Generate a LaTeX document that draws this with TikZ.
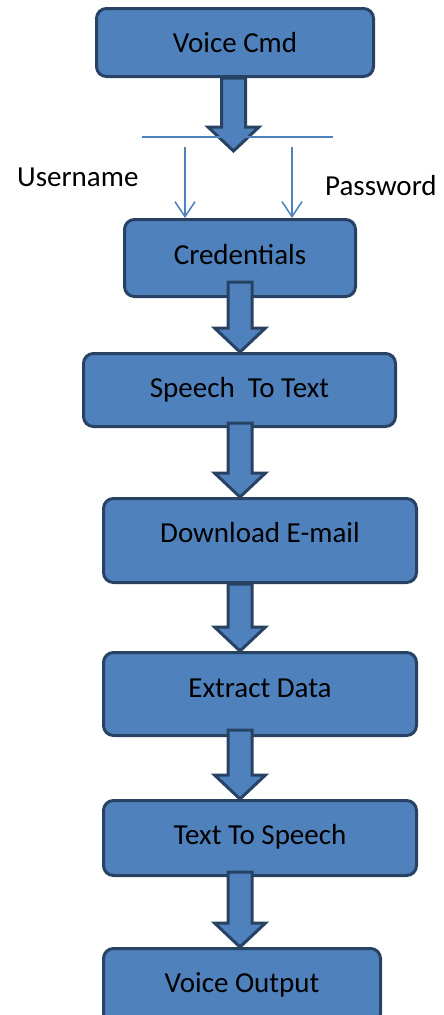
\documentclass[tikz,border=0pt]{standalone}
\usepackage{fontspec}
\setmainfont{Carlito}
\usetikzlibrary{calc,arrows.meta}
\definecolor{boxfill}{HTML}{4F81BD}
\definecolor{boxline}{RGB}{40,66,100}
% #1 start point, #2 tip point, #3 x centre, #4 inset of shaft top into start box
\newcommand\blockarrow[4]{%
  \draw[barrow] let \p1=(#1), \p2=(#2) in
    ({#3-12},{\y1+#4}) -- ({#3+12},{\y1+#4}) -- ({#3+12},{\y2+24pt})
    -- ({#3+25.5},{\y2+24pt}) -- (#3,\y2) -- ({#3-25.5},{\y2+24pt})
    -- ({#3-12},{\y2+24pt}) -- cycle;}
\begin{document}
\begin{tikzpicture}[x=1pt,y=-1pt,
  box/.style={draw=boxline, fill=boxfill, line width=3pt, rounded corners=10pt,
    inner sep=0pt, text height=20pt, font=\fontsize{29}{35}\selectfont},
  barrow/.style={draw=boxline, fill=boxfill, line width=3pt, line join=miter},
  thinline/.style={draw=boxfill, line width=1.5pt},
  thinarrow/.style={thinline, -{Straight Barb[length=15pt,width=20pt,line width=1.5pt]}},
  lbl/.style={inner sep=0pt, font=\fontsize{29}{35}\selectfont}]
\useasboundingbox (0,0) rectangle (444,1015);
% boxes
\node[box, minimum width=277pt, minimum height=68pt, text depth=0.4pt] (vc) at (235,42.5) {Voice Cmd};
\node[box, minimum width=231pt, minimum height=77pt, text depth=7.4pt] (cr) at (240,258) {Credentials};
\node[box, minimum width=312pt, minimum height=73pt, text depth=5.4pt] (st) at (239.5,390) {Speech\ \ To Text};
\node[box, minimum width=313pt, minimum height=84pt, text depth=16.4pt] (de) at (260,540.5) {Download E-mail};
\node[box, minimum width=313pt, minimum height=83pt, text depth=13.4pt] (ed) at (260,694) {Extract Data};
\node[box, minimum width=313pt, minimum height=75pt, text depth=7.4pt] (ts) at (260,838) {Text To Speech};
\node[box, minimum width=277pt, minimum height=75pt, text depth=7.4pt] (vo) at (242,986) {Voice Output};
% block arrows
\coordinate (t1) at (233.5,151);
\blockarrow{vc.south}{t1}{233.5}{0pt}
\blockarrow{cr.south}{st.north}{240}{16pt}
\blockarrow{st.south}{de.north}{240}{5pt}
\blockarrow{de.south}{ed.north}{240}{0pt}
\blockarrow{ed.south}{ts.north}{240}{7pt}
\blockarrow{ts.south}{vo.north}{240}{5pt}
% split line and credential arrows
\coordinate (hl) at (142,137);
\coordinate (hr) at (333,137);
\draw[thinline] (hl) -- (hr);
\coordinate (ua) at (185,147);
\coordinate (pa) at (292,147);
\draw[thinarrow] (ua) -- (ua |- cr.north);
\draw[thinarrow] (pa) -- (pa |- cr.north);
% labels
\node[lbl, anchor=base west] (un) at (17,186) {Username};
\node[lbl, anchor=base west] (pw) at (325,195) {Password};
\end{tikzpicture}
\end{document}
